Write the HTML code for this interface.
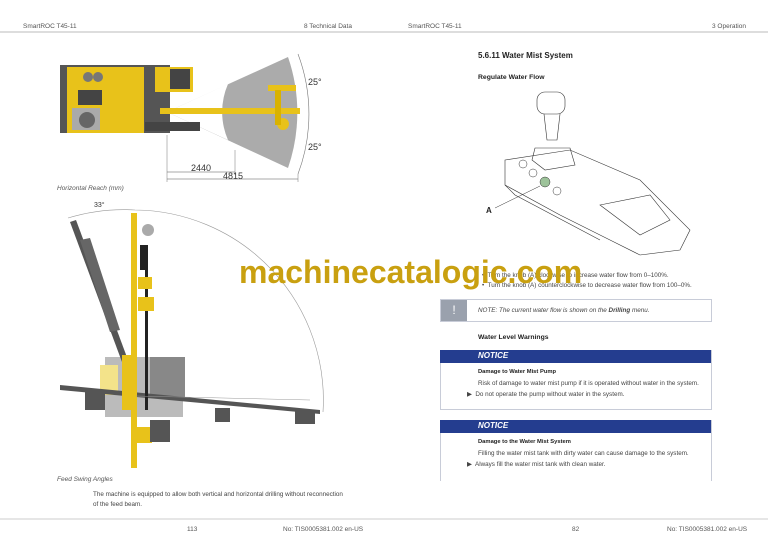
<!DOCTYPE html>
<html><head><meta charset="utf-8"><style>
body{margin:0;width:768px;height:543px;background:#fff;position:relative;overflow:hidden;font-family:"Liberation Sans",sans-serif;color:#333}
.t{position:absolute;white-space:nowrap}
.s{font-size:6.5px;color:#555}
.p{font-size:6.3px;color:#444}
.b{font-weight:bold;color:#222}
.hdr{position:absolute;left:440px;width:271px;height:13px;background:#243d8f;color:#fff;font-weight:bold;font-style:italic;font-size:8px}
.box{position:absolute;left:440px;width:270px;border:1px solid #c8ccd8}
</style></head><body>
<svg width="768" height="543" style="position:absolute;left:0;top:0">
<line x1="0" y1="32" x2="768" y2="32" stroke="#bbb" stroke-width="1"/>
<line x1="0" y1="519" x2="768" y2="519" stroke="#ccc" stroke-width="1"/>
<!-- top figure fan -->
<path d="M167,112 L288,57 A170,170 0 0 1 288,168 Z" fill="#ababab"/>
<path d="M167,112 L228,84 A70,70 0 0 0 228,140 Z" fill="#fff"/>
<path d="M298,54 A170,170 0 0 1 298,174" fill="none" stroke="#777" stroke-width="0.6"/>
<!-- machine top view -->
<rect x="60" y="65" width="110" height="68" fill="#555"/>
<rect x="67" y="67" width="77" height="66" fill="#e8c21a"/>
<rect x="78" y="90" width="24" height="15" fill="#444"/>
<rect x="72" y="108" width="28" height="22" fill="#aaa"/>
<circle cx="87" cy="120" r="8" fill="#666"/>
<circle cx="88" cy="77" r="5" fill="#777"/><circle cx="98" cy="77" r="5" fill="#777"/>
<rect x="145" y="122" width="55" height="9" fill="#444"/>
<rect x="155" y="67" width="38" height="25" fill="#e8c21a"/>
<rect x="170" y="69" width="20" height="20" fill="#444"/>
<rect x="160" y="108" width="140" height="6" fill="#e8c21a"/>
<rect x="268" y="85" width="28" height="6" fill="#e8c21a"/>
<circle cx="283" cy="124" r="6" fill="#e8c21a"/>
<rect x="275" y="90" width="6" height="35" fill="#d9b200"/>
<!-- dims -->
<line x1="167" y1="172" x2="235" y2="172" stroke="#555" stroke-width="0.6"/>
<line x1="167" y1="179" x2="298" y2="179" stroke="#555" stroke-width="0.6"/>
<line x1="167" y1="135" x2="167" y2="182" stroke="#777" stroke-width="0.5"/>
<line x1="235" y1="150" x2="235" y2="175" stroke="#777" stroke-width="0.5"/>
<line x1="298" y1="174" x2="298" y2="182" stroke="#777" stroke-width="0.5"/>
<!-- bottom figure -->
<path d="M68,218 A190,190 0 0 1 135,210 A190,190 0 0 1 323,412" fill="none" stroke="#999" stroke-width="0.6"/>
<rect x="105" y="357" width="78" height="60" fill="#bbb"/>
<rect x="150" y="357" width="35" height="40" fill="#888"/>
<rect x="100" y="365" width="18" height="30" fill="#f3e38a"/>
<polygon points="70,222 76,220 128,360 122,362" fill="#555"/>
<polygon points="80,240 90,238 120,330 110,332" fill="#666"/>
<polygon points="60,385 320,410 320,414 60,390" fill="#555"/>
<rect x="85" y="392" width="20" height="18" fill="#555"/>
<rect x="215" y="408" width="15" height="14" fill="#555"/>
<rect x="295" y="410" width="20" height="14" fill="#555"/>
<rect x="131" y="213" width="6" height="255" fill="#e8c21a"/>
<rect x="140" y="245" width="8" height="25" fill="#222"/>
<rect x="145" y="270" width="3" height="140" fill="#222"/>
<circle cx="148" cy="230" r="6" fill="#aaa"/>
<rect x="138" y="277" width="14" height="12" fill="#e8c21a"/>
<rect x="138" y="297" width="16" height="14" fill="#e8c21a"/>
<rect x="122" y="355" width="14" height="55" fill="#e8c21a"/>
<rect x="136" y="427" width="16" height="16" fill="#e8c21a"/>
<rect x="150" y="420" width="20" height="22" fill="#555"/>
<line x1="136" y1="396" x2="310" y2="400" stroke="#999" stroke-width="0.5"/>
<!-- joystick -->
<g fill="none" stroke="#333" stroke-width="0.6">
<rect x="537" y="92" width="28" height="22" rx="8"/>
<path d="M544,114 L547,140 L557,140 L560,114"/>
<path d="M535,148 L570,148 L575,165 L545,170 L532,160 Z"/>
<path d="M505,160 L570,150 L640,180 L690,230 L680,250 L640,255 L610,240 L560,215 L505,185 Z"/>
<path d="M600,205 L650,195 L670,220 L640,235 Z"/>
<path d="M505,185 L515,195 L600,240"/>
</g>
<circle cx="545" cy="182" r="5" fill="#9dc39a" stroke="#333" stroke-width="0.5"/>
<circle cx="523" cy="164" r="4" fill="none" stroke="#333" stroke-width="0.5"/>
<circle cx="533" cy="173" r="4" fill="none" stroke="#333" stroke-width="0.5"/>
<circle cx="557" cy="191" r="4" fill="none" stroke="#333" stroke-width="0.5"/>
<line x1="495" y1="208" x2="540" y2="186" stroke="#333" stroke-width="0.5"/>
</svg>
<div class="t s" style="left:23px;top:23px">SmartROC T45-11</div>
<div class="t s" style="left:304px;top:23px">8 Technical Data</div>
<div class="t s" style="left:408px;top:23px">SmartROC T45-11</div>
<div class="t s" style="left:712px;top:23px">3 Operation</div>
<div class="t" style="left:308px;top:77px;font-size:9px">25°</div>
<div class="t" style="left:308px;top:142px;font-size:9px">25°</div>
<div class="t" style="left:191px;top:163px;font-size:9px">2440</div>
<div class="t" style="left:223px;top:171px;font-size:9px">4815</div>
<div class="t s" style="left:57px;top:185px;font-style:italic">Horizontal Reach (mm)</div>
<div class="t" style="left:94px;top:202px;font-size:7px">33°</div>
<div class="t s" style="left:57px;top:476px;font-style:italic">Feed Swing Angles</div>
<div class="t p" style="left:93px;top:491px">The machine is equipped to allow both vertical and horizontal drilling without reconnection</div>
<div class="t p" style="left:93px;top:501px">of the feed beam.</div>
<div class="t s" style="left:187px;top:526px">113</div>
<div class="t s" style="left:283px;top:526px">No: TIS0005381.002 en-US</div>
<div class="t s" style="left:572px;top:526px">82</div>
<div class="t s" style="left:667px;top:526px">No: TIS0005381.002 en-US</div>
<div class="t b" style="left:478px;top:51px;font-size:8px">5.6.11 Water Mist System</div>
<div class="t b" style="left:478px;top:74px;font-size:6.8px">Regulate Water Flow</div>
<div class="t b" style="left:486px;top:206px;font-size:8px">A</div>
<div class="t p" style="left:482px;top:272px">•&nbsp; Turn the knob (A) clockwise to increase water flow from 0–100%.</div>
<div class="t p" style="left:482px;top:282px">•&nbsp; Turn the knob (A) counterclockwise to decrease water flow from 100–0%.</div>
<div class="box" style="top:299px;height:21px"></div>
<div style="position:absolute;left:441px;top:300px;width:26px;height:21px;background:#9aa1ad;color:#fff;font-size:12px;text-align:center;line-height:21px">!</div>
<div class="t p" style="left:478px;top:307px;font-style:italic">NOTE: The current water flow is shown on the <b>Drilling</b> menu.</div>
<div class="t b" style="left:478px;top:334px;font-size:6.8px">Water Level Warnings</div>
<div class="box" style="top:350px;height:58px"></div>
<div class="hdr" style="top:350px"><span style="position:absolute;left:38px;top:1px">NOTICE</span></div>
<div class="t b" style="left:478px;top:369px;font-size:5.8px">Damage to Water Mist Pump</div>
<div class="t p" style="left:478px;top:380px">Risk of damage to water mist pump if it is operated without water in the system.</div>
<div class="t p" style="left:467px;top:391px">▶&nbsp; Do not operate the pump without water in the system.</div>
<div class="box" style="top:420px;height:60px;border-bottom:none"></div>
<div class="hdr" style="top:420px"><span style="position:absolute;left:38px;top:1px">NOTICE</span></div>
<div class="t b" style="left:478px;top:439px;font-size:5.8px">Damage to the Water Mist System</div>
<div class="t p" style="left:478px;top:450px">Filling the water mist tank with dirty water can cause damage to the system.</div>
<div class="t p" style="left:467px;top:461px">▶&nbsp; Always fill the water mist tank with clean water.</div>
<div class="t" style="left:239px;top:254px;font-size:32px;font-weight:bold;color:#c9a010">machinecatalogic.com</div>
</body></html>
